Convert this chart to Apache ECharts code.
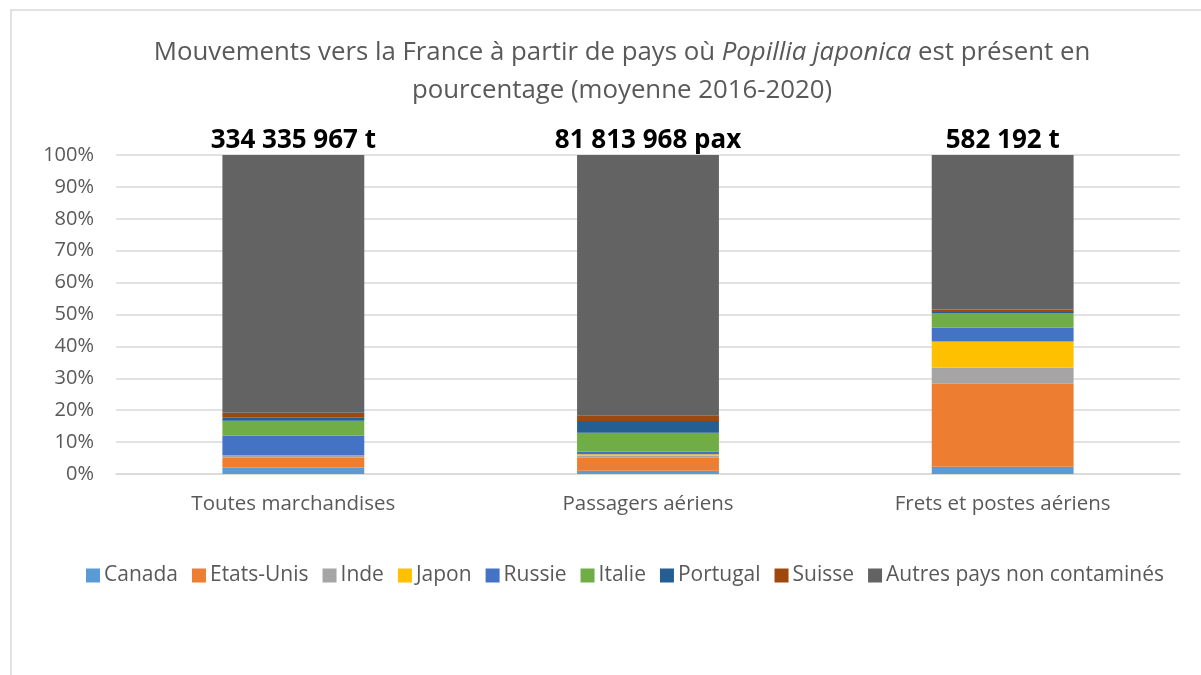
<!DOCTYPE html>
<html>
<head>
<meta charset="utf-8">
<title>Popillia japonica</title>
<script src="https://cdn.jsdelivr.net/npm/echarts@6/dist/echarts.min.js"></script>
<style>
  html, body { margin: 0; padding: 0; background: #fff; }
  #chart { width: 1201px; height: 675px; }
</style>
</head>
<body>
<div id="chart"></div>
<script>
  // catégories et totaux affichés au-dessus des barres
  var categories = ['Toutes marchandises', 'Passagers aériens', 'Frets et postes aériens'];
  var totals = ['334 335 967 t', '81 813 968 pax', '582 192 t'];

  // parts en %
  var canada = [2.0, 1.0, 2.3];
  var etatsUnis = [3.1, 4.1, 26.0];
  var inde = [0.8, 0.6, 5.0];
  var japon = [0.0, 0.5, 8.2];
  var russie = [6.1, 0.8, 4.4];
  var italie = [4.7, 5.9, 4.4];
  var portugal = [0.9, 3.7, 0.5];
  var suisse = [1.6, 1.8, 0.8];
  var autres = [80.8, 81.6, 48.4];

  var yTicks = [0, 10, 20, 30, 40, 50, 60, 70, 80, 90, 100];

  var chart = echarts.init(document.getElementById('chart'));
  var font = '"Open Sans", "Liberation Sans", sans-serif';
  var grey = '#595959';

  function serie(name, data, color, withLabel) {
    var s = {
      name: name,
      type: 'bar',
      stack: 'total',
      barWidth: '40%',
      data: data,
      itemStyle: { color: color },
      emphasis: { disabled: true }
    };
    if (withLabel) {
      s.label = {
        show: true,
        position: 'top',
        distance: 1,
        color: '#000',
        fontFamily: font,
        fontWeight: 'bold',
        fontSize: 26,
        formatter: function (p) { return totals[p.dataIndex]; }
      };
    }
    return s;
  }

  var option = {
    backgroundColor: '#fff',
    animation: false,
    textStyle: { fontFamily: font },
    graphic: [{
      type: 'rect',
      shape: { x: 11, y: 10, width: 1210, height: 700 },
      style: { fill: 'none', stroke: '#d9d9d9', lineWidth: 1.5 },
      silent: true
    }],
    title: {
      text: '{n|Mouvements vers la France à partir de pays où }{i|Popillia japonica}{n| est présent en}\n{n|pourcentage (moyenne 2016-2020)}',
      left: 617,
      textAlign: 'center',
      top: 29,
      textStyle: {
        fontWeight: 'normal',
        rich: {
          n: { fontFamily: font, fontSize: 25.8, fontWeight: 'normal', color: grey, lineHeight: 38 },
          i: { fontFamily: font, fontSize: 25.8, fontWeight: 'normal', color: grey, fontStyle: 'italic', lineHeight: 38 }
        }
      }
    },
    legend: {
      bottom: 84,
      left: 81,
      itemWidth: 14,
      itemHeight: 14,
      itemGap: 14,
      icon: 'rect',
      textStyle: { fontFamily: font, fontSize: 21, color: grey, padding: [0, 0, 0, -1] },
      data: ['Canada', 'Etats-Unis', 'Inde', 'Japon', 'Russie', 'Italie', 'Portugal', 'Suisse', 'Autres pays non contaminés']
    },
    grid: { left: 116, right: 21, top: 155, bottom: 201 },
    xAxis: {
      type: 'category',
      data: categories,
      axisLine: { lineStyle: { color: '#d9d9d9', width: 1.5 } },
      axisTick: { show: false },
      axisLabel: { fontFamily: font, fontSize: 20.5, color: grey, margin: 20 }
    },
    yAxis: {
      type: 'value',
      min: yTicks[0],
      max: yTicks[yTicks.length - 1],
      interval: 10,
      axisLine: { show: false },
      axisTick: { show: false },
      splitLine: { lineStyle: { color: '#d9d9d9', width: 1.5 } },
      axisLabel: { fontFamily: font, fontSize: 20, color: grey, margin: 22, formatter: '{value}%' }
    },
    series: [
      serie('Canada', canada, '#5B9BD5'),
      serie('Etats-Unis', etatsUnis, '#ED7D31'),
      serie('Inde', inde, '#A5A5A5'),
      serie('Japon', japon, '#FFC000'),
      serie('Russie', russie, '#4472C4'),
      serie('Italie', italie, '#70AD47'),
      serie('Portugal', portugal, '#255E91'),
      serie('Suisse', suisse, '#9E480E'),
      serie('Autres pays non contaminés', autres, '#636363', true)
    ]
  };

  chart.setOption(option);

  window.addEventListener('resize', function () {
    chart.resize();
  });
</script>
</body>
</html>
